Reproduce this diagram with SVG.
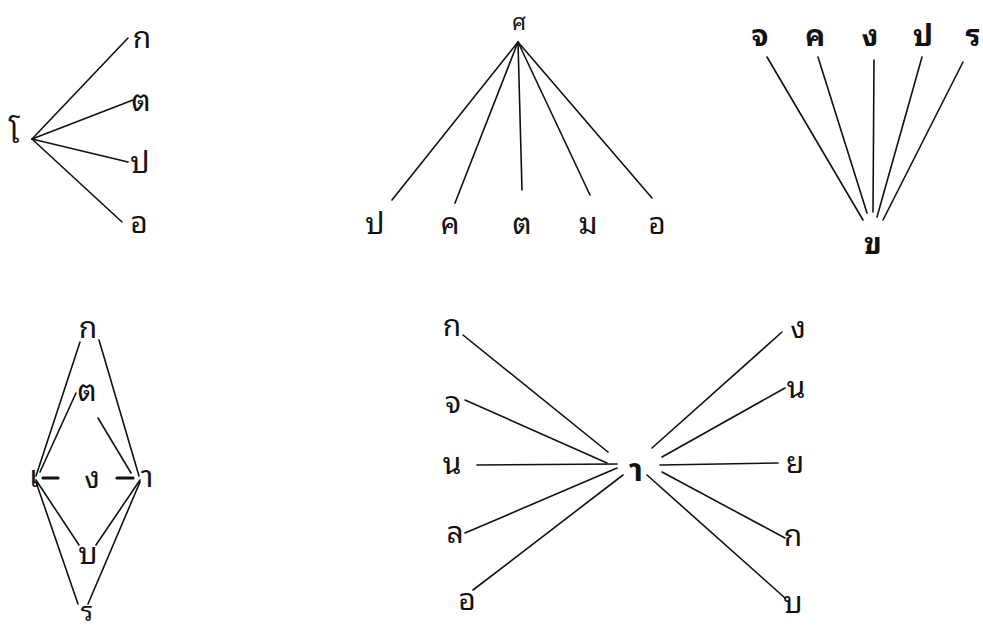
<svg xmlns="http://www.w3.org/2000/svg" width="983" height="629" viewBox="0 0 983 629">
<style>
text{font-family:"Noto Sans Thai Looped","Noto Serif Thai","Tlwg Typo","Loma","Noto Sans Thai","Noto Sans","DejaVu Sans",sans-serif;font-size:30px;fill:#111;text-anchor:middle}
.b{font-weight:bold}
.c line{stroke:#111;stroke-width:1.6;stroke-linecap:round}
.c .d{stroke-width:3.2}
</style>
<rect width="983" height="629" fill="#fff"/>
<g class="c" id="connectors">
<line x1="32" y1="139" x2="128" y2="38"/>
<line x1="32" y1="139" x2="133" y2="100"/>
<line x1="32" y1="139" x2="128" y2="162"/>
<line x1="32" y1="139" x2="122" y2="222"/>
<line x1="518" y1="42" x2="392" y2="200"/>
<line x1="518" y1="42" x2="455" y2="203"/>
<line x1="518" y1="42" x2="522" y2="190"/>
<line x1="518" y1="42" x2="590" y2="195"/>
<line x1="518" y1="42" x2="652" y2="198"/>
<line x1="767" y1="57" x2="863" y2="220"/>
<line x1="818" y1="57" x2="867" y2="213"/>
<line x1="874" y1="60" x2="873" y2="212"/>
<line x1="922" y1="57" x2="877" y2="217"/>
<line x1="963" y1="62" x2="883" y2="220"/>
<line x1="36" y1="476" x2="80" y2="342"/>
<line x1="139" y1="476" x2="99" y2="340"/>
<line x1="40" y1="472" x2="76" y2="393"/>
<line x1="131" y1="473" x2="98" y2="418"/>
<line class="d" x1="43" y1="478" x2="58" y2="478"/>
<line class="d" x1="117" y1="478" x2="133" y2="478"/>
<line x1="36" y1="480" x2="79" y2="545"/>
<line x1="140" y1="480" x2="96" y2="545"/>
<line x1="36" y1="482" x2="78" y2="604"/>
<line x1="140" y1="482" x2="88" y2="604"/>
<line x1="463" y1="335" x2="608" y2="452"/>
<line x1="465" y1="400" x2="607" y2="463"/>
<line x1="477" y1="465" x2="617" y2="464"/>
<line x1="465" y1="533" x2="617" y2="468"/>
<line x1="473" y1="590" x2="623" y2="475"/>
<line x1="782" y1="332" x2="652" y2="448"/>
<line x1="785" y1="388" x2="662" y2="457"/>
<line x1="778" y1="463" x2="660" y2="465"/>
<line x1="785" y1="538" x2="662" y2="472"/>
<line x1="785" y1="598" x2="647" y2="475"/>
</g>
<g id="tree1">
<text x="14" y="143">โ</text>
<text x="142" y="48">ก</text>
<text x="141" y="111">ต</text>
<text x="140" y="173">ป</text>
<text x="139" y="233">อ</text>
</g>
<g id="tree2">
<text x="519" y="30" style="font-size:22px">ศ</text>
<text x="375" y="234">ป</text>
<text x="450" y="234">ค</text>
<text x="522" y="234">ต</text>
<text x="588" y="234">ม</text>
<text x="657" y="234">อ</text>
</g>
<g id="tree3">
<text class="b" x="760" y="46">จ</text>
<text class="b" x="815" y="46">ค</text>
<text class="b" x="870" y="46">ง</text>
<text class="b" x="923" y="46">ป</text>
<text class="b" x="973" y="46">ร</text>
<text class="b" x="873" y="254">ข</text>
</g>
<g id="tree4">
<text x="34" y="487">เ</text>
<text x="92" y="488">ง</text>
<text x="147" y="487">า</text>
<text x="88" y="338">ก</text>
<text x="87" y="401">ต</text>
<text x="88" y="564">บ</text>
<text x="87" y="621" style="font-size:26px">ร</text>
</g>
<g id="tree5">
<text x="452" y="336">ก</text>
<text x="453" y="413">จ</text>
<text x="452" y="474">น</text>
<text x="455" y="543">ล</text>
<text x="467" y="610">อ</text>
<text class="b" x="636" y="481" style="font-size:32px">า</text>
<text x="798" y="338">ง</text>
<text x="796" y="398">น</text>
<text x="795" y="473">ย</text>
<text x="793" y="546">ก</text>
<text x="793" y="613">บ</text>
</g>
</svg>
